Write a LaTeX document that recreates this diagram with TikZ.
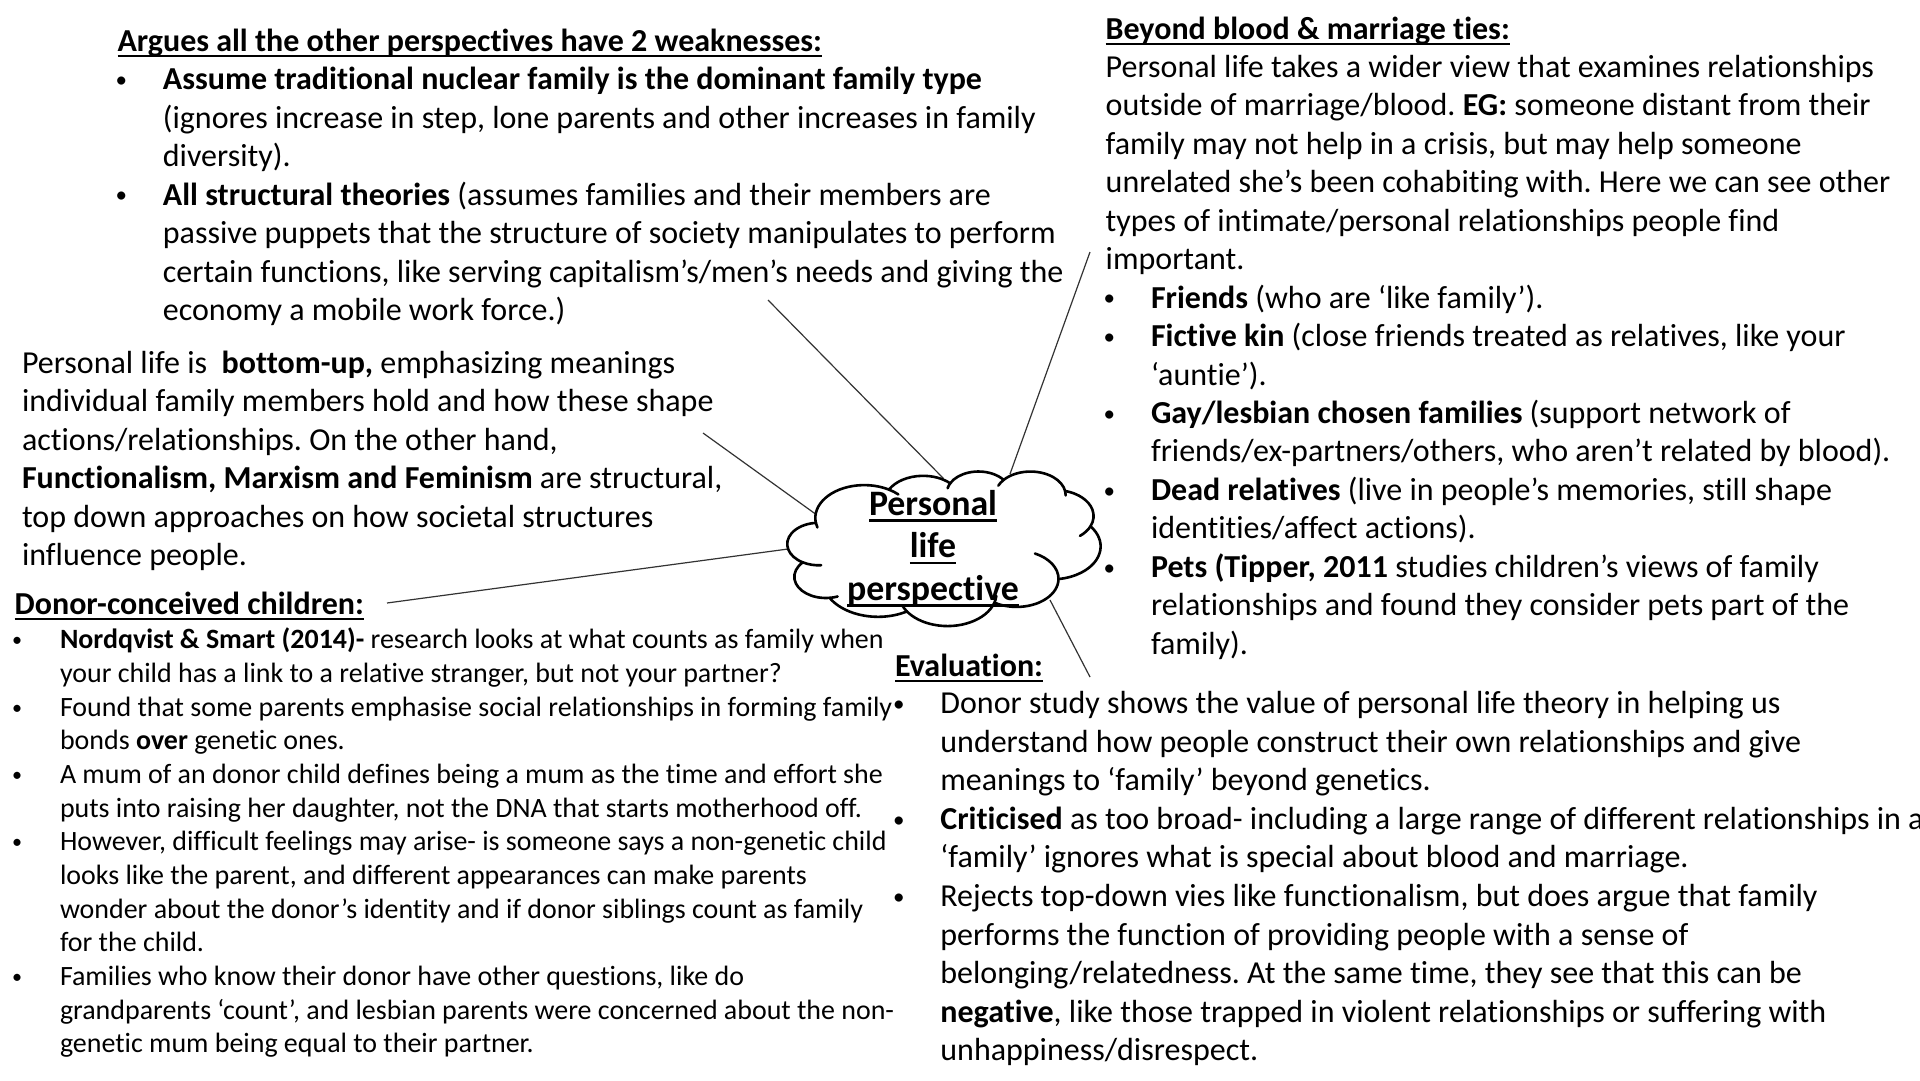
\documentclass[tikz,border=0pt]{standalone}
\usepackage{fontspec}
\setmainfont{Carlito}[Ligatures={TeX,NoCommon}]
\frenchspacing
\newcommand\fmain{\fontsize{32pt}{38.5pt}\selectfont}
\newcommand\fdonor{\fontsize{27.95pt}{33.67pt}\selectfont}
\newcommand\fcloud{\fontsize{35.8pt}{42.5pt}\selectfont}
\newcommand\UL[1]{\setbox0=\hbox{#1}\rlap{\rule[-5.5pt]{\wd0}{2pt}}\box0}
\newcommand\ULc[1]{\setbox0=\hbox{#1}\rlap{\rule[-6.8pt]{\wd0}{2.5pt}}\box0}
\newcommand\TB[2]{\vtop{\baselineskip=#1\relax\lineskiplimit=-1000pt\lineskip=0pt\relax#2}}
\newcommand\PL[1]{\hbox{#1}}
\newcommand\CL[2]{\hbox{\hskip#1\relax#2}}
\newcommand\bul{\raisebox{0.07em}{\scalebox{0.72}{•}}}
\newcommand\BL[3]{\hbox{\rlap{\hskip#1\relax\bul}\hskip#2\relax#3}}
\newcommand\CC[1]{\hbox to 0pt{\hss#1\hss}}
\tikzset{
  txt/.style={anchor=base west, inner sep=0pt, outer sep=0pt},
  conn/.style={line width=1.2pt, draw=black!80},
  cloudline/.style={line width=2.6pt, line join=round, line cap=round, draw=black}
}
\begin{document}
\begin{tikzpicture}[x=1pt,y=-1pt]
\fill[white] (0,0) rectangle (1920,1080);
\useasboundingbox (0,0) rectangle (1920,1080);

% connector end points
\coordinate (w1) at (768,300);    \coordinate (c1) at (943.5,478.5);
\coordinate (b1) at (1090,252);   \coordinate (c2) at (1010,474);
\coordinate (p1) at (703,433);    \coordinate (c3) at (815.5,514);
\coordinate (d1) at (387,603);    \coordinate (c4) at (788,549);
\coordinate (c5) at (1050,600);   \coordinate (v1) at (1090,677);
\draw[conn] (w1) -- (c1);
\draw[conn] (b1) -- (c2);
\draw[conn] (p1) -- (c3);
\draw[conn] (d1) -- (c4);
\draw[conn] (c5) -- (v1);

% cloud (preset cloud outline)
\begin{scope}[shift={(787.5,471)}, x=0.7245pt, y=-0.3576pt]
\filldraw[cloudline, fill=white] (39.00,143.70)
  arc[start angle=-187.74, end angle=-59.64, x radius=67.53, y radius=91.90]
  arc[start angle=-152.02, end angle=-45.44, x radius=53.33, y radius=72.67]
  arc[start angle=-153.49, end angle=-37.33, x radius=43.65, y radius=59.45]
  arc[start angle=-139.71, end angle=-10.21, x radius=48.57, y radius=65.95]
  arc[start angle=-74.77, end angle=23.21, x radius=53.33, y radius=72.73]
  arc[start angle=-37.53, end angle=81.86, x radius=67.75, y radius=92.20]
  arc[start angle=0.46, end angle=121.98, x radius=57.85, y radius=78.67]
  arc[start angle=16.84, end angle=146.23, x radius=67.52, y radius=92.15]
  arc[start angle=58.98, end angle=150.20, x radius=77.20, y radius=105.43]
  arc[start angle=83.31, end angle=223.10, x radius=43.60, y radius=59.18]
  arc[start angle=120.36, end angle=264.13, x radius=43.45, y radius=59.45]
  -- cycle;
\draw[cloudline] (43.11,204.23) ++(85.54:43.45 and 59.45) arc[start angle=85.54, end angle=120.36, x radius=43.45, y radius=59.45];
\draw[cloudline] (52.99,295.96) ++(68.2:43.60 and 59.18) arc[start angle=68.2, end angle=83.31, x radius=43.60, y radius=59.18];
\draw[cloudline] (220.97,341.46) ++(146.23:67.52 and 92.15) arc[start angle=146.23, end angle=158.47, x radius=67.52, y radius=92.15];
\draw[cloudline] (220.97,341.46) ++(4.73:67.52 and 92.15) arc[start angle=4.73, end angle=16.84, x radius=67.52, y radius=92.15];
\draw[cloudline] (316.23,301.42) ++(-64.02:57.85 and 78.67) arc[start angle=-64.02, end angle=0.46, x radius=57.85, y radius=78.67];
\draw[cloudline] (369.20,125.96) ++(23.21:53.33 and 72.73) arc[start angle=23.21, end angle=49.65, x radius=53.33, y radius=72.73];
\draw[cloudline] (335.41,67.47) ++(-10.21:48.57 and 65.95) arc[start angle=-10.21, end angle=0.82, x radius=48.57, y radius=65.95];
\draw[cloudline] (335.41,67.47) ++(-156.29:48.57 and 65.95) arc[start angle=-156.29, end angle=-139.71, x radius=48.57, y radius=65.95];
\draw[cloudline] (263.65,60.89) ++(-167.72:43.65 and 59.45) arc[start angle=-167.72, end angle=-153.49, x radius=43.65, y radius=59.45];
\draw[cloudline] (105.92,131.32) ++(-59.64:67.53 and 91.90) arc[start angle=-59.64, end angle=-45.74, x radius=67.53, y radius=91.90];
\draw[cloudline] (105.92,131.32) ++(163.19:67.53 and 91.90) arc[start angle=163.19, end angle=172.26, x radius=67.53, y radius=91.90];
\end{scope}

\node[anchor=base, inner sep=0pt, font=\fcloud] (plp) at (933,515) {\TB{42.5pt}{%
\CC{\ULc{\textbf{Personal}}}%
\CC{\ULc{\textbf{life}}}%
\CC{\ULc{\textbf{perspective}}}}};

% top left block
\node[txt, font=\fmain] (weak) at (117.5,51.4) {\TB{38.45pt}{%
\PL{\UL{\textbf{Argues all the other perspectives have 2 weaknesses:}}}%
\BL{-2pt}{45.4pt}{\textbf{Assume traditional nuclear family is the dominant family type}}%
\CL{45.4pt}{(ignores increase in step, lone parents and other increases in family}%
\CL{45.4pt}{diversity).}%
\BL{-2pt}{45.4pt}{\textbf{All structural theories} (assumes families and their members are}%
\CL{45.4pt}{passive puppets that the structure of society manipulates to perform}%
\CL{45.4pt}{certain functions, like serving capitalism’s/men’s needs and giving the}%
\CL{45.4pt}{economy a mobile work force.)}}};

% top right block
\node[txt, font=\fmain] (beyond) at (1105.7,39) {\TB{38.45pt}{%
\PL{\UL{\textbf{Beyond blood \& marriage ties:}}}%
\PL{Personal life takes a wider view that examines relationships}%
\PL{outside of marriage/blood. \textbf{EG:} someone distant from their}%
\PL{family may not help in a crisis, but may help someone}%
\PL{unrelated she’s been cohabiting with. Here we can see other}%
\PL{types of intimate/personal relationships people find}%
\PL{important.}%
\BL{-2pt}{45.3pt}{\textbf{Friends} (who are ‘like family’).}%
\BL{-2pt}{45.3pt}{\textbf{Fictive kin} (close friends treated as relatives, like your}%
\CL{45.3pt}{‘auntie’).}%
\BL{-2pt}{45.3pt}{\textbf{Gay/lesbian chosen families} (support network of}%
\CL{45.3pt}{friends/ex-partners/others, who aren’t related by blood).}%
\BL{-2pt}{45.3pt}{\textbf{Dead relatives} (live in people’s memories, still shape}%
\CL{45.3pt}{identities/affect actions).}%
\BL{-2pt}{45.3pt}{\textbf{Pets (Tipper, 2011} studies children’s views of family}%
\CL{45.3pt}{relationships and found they consider pets part of the}%
\CL{45.3pt}{family).}}};

% left paragraph
\node[txt, font=\fmain] (bottomup) at (22,373.4) {\TB{38.45pt}{%
\PL{Personal life is~ \textbf{bottom-up,} emphasizing meanings}%
\PL{individual family members hold and how these shape}%
\PL{actions/relationships. On the other hand,}%
\PL{\textbf{Functionalism, Marxism and Feminism} are structural,}%
\PL{top down approaches on how societal structures}%
\PL{influence people.}}};

% donor block
\node[txt, font=\fmain] (donorhead) at (14.7,614.2) {\UL{\textbf{Donor-conceived children:}}};
\node[txt, font=\fdonor] (donor) at (14.7,648.7) {\TB{33.67pt}{%
\BL{-2.5pt}{45.3pt}{\textbf{Nordqvist \& Smart (2014)-} research looks at what counts as family when}%
\CL{45.3pt}{your child has a link to a relative stranger, but not your partner?}%
\BL{-2.5pt}{45.3pt}{Found that some parents emphasise social relationships in forming family}%
\CL{45.3pt}{bonds \textbf{over} genetic ones.}%
\BL{-2.5pt}{45.3pt}{A mum of an donor child defines being a mum as the time and effort she}%
\CL{45.3pt}{puts into raising her daughter, not the DNA that starts motherhood off.}%
\BL{-2.5pt}{45.3pt}{However, difficult feelings may arise- is someone says a non-genetic child}%
\CL{45.3pt}{looks like the parent, and different appearances can make parents}%
\CL{45.3pt}{wonder about the donor’s identity and if donor siblings count as family}%
\CL{45.3pt}{for the child.}%
\BL{-2.5pt}{45.3pt}{Families who know their donor have other questions, like do}%
\CL{45.3pt}{grandparents ‘count’, and lesbian parents were concerned about the non-}%
\CL{45.3pt}{genetic mum being equal to their partner.}}};

% evaluation block
\node[txt, font=\fmain] (evalhead) at (895,676) {\UL{\textbf{Evaluation:}}};
\node[txt, font=\fmain] (eval) at (895,713.5) {\TB{38.6pt}{%
\BL{-2pt}{45.4pt}{Donor study shows the value of personal life theory in helping us}%
\CL{45.4pt}{understand how people construct their own relationships and give}%
\CL{45.4pt}{meanings to ‘family’ beyond genetics.}%
\BL{-2pt}{45.4pt}{\textbf{Criticised} as too broad- including a large range of different relationships in a}%
\CL{45.4pt}{‘family’ ignores what is special about blood and marriage.}%
\BL{-2pt}{45.4pt}{Rejects top-down vies like functionalism, but does argue that family}%
\CL{45.4pt}{performs the function of providing people with a sense of}%
\CL{45.4pt}{belonging/relatedness. At the same time, they see that this can be}%
\CL{45.4pt}{\textbf{negative}, like those trapped in violent relationships or suffering with}%
\CL{45.4pt}{unhappiness/disrespect.}}};
\end{tikzpicture}
\end{document}
